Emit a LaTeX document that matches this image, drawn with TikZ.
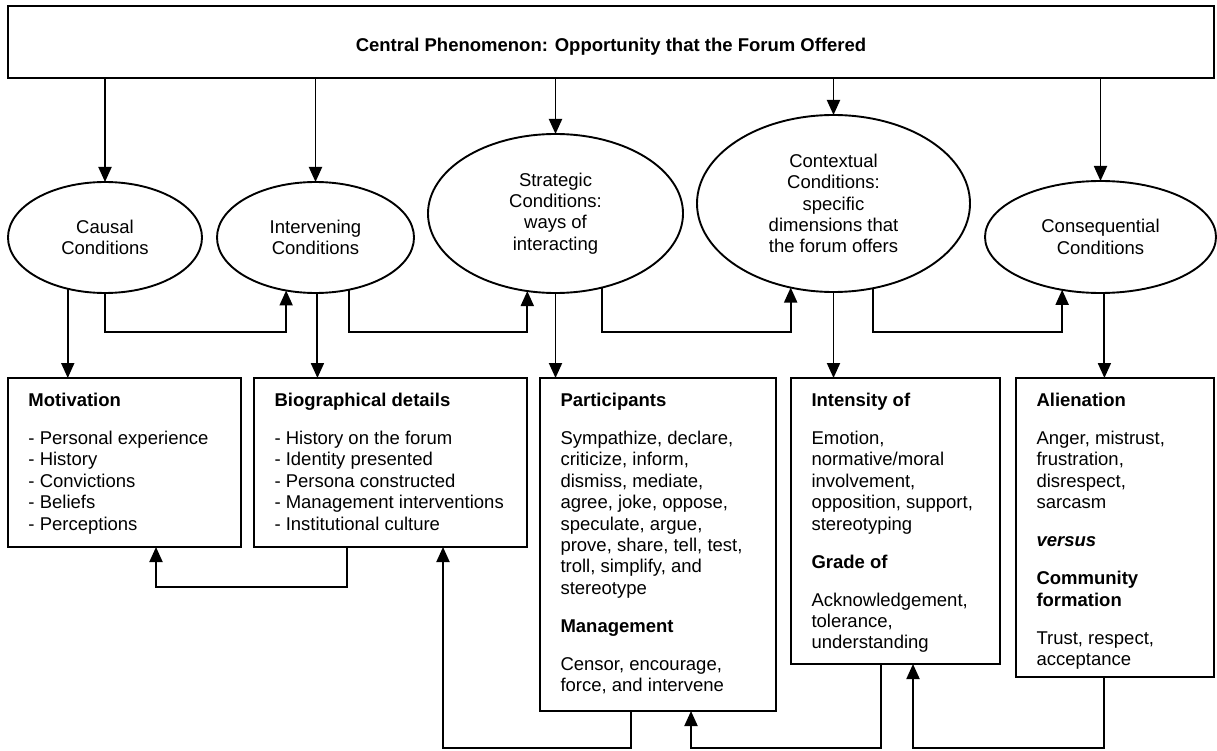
\documentclass[tikz,border=0pt]{standalone}
\usepackage{fontspec}
\setmainfont{Liberation Sans}
\usetikzlibrary{shapes.geometric,arrows.meta}
\newcommand\myfs{\fontsize{18.5pt}{21.4pt}\selectfont}
\newcommand\gap{\par\vspace{16.6pt}}
\newcommand\bxt[3]{\parbox[t][#2][t]{#1}{\myfs\raggedright\leftskip=20.5pt\relax\vspace*{13.5pt}\strut#3}}
\begin{document}
\begin{tikzpicture}[x=1pt,y=-1pt,
  ln/.style={line width=1.9pt},
  arr/.style={ln,-{Triangle[length=15pt,width=13pt]}},
  ell/.style={draw,ln,ellipse,inner sep=0pt,outer sep=0pt,align=center,font=\myfs,fill=white},
  bx/.style={draw,ln,rectangle,inner sep=0pt,outer sep=0pt,anchor=north west}]
\useasboundingbox (0,0) rectangle (1217,751);

% top box
\node[draw,ln,anchor=north west,minimum width=1206pt,minimum height=72pt,inner sep=0pt,outer sep=0pt,font=\myfs\bfseries] (top) at (8,6) {\rule{0pt}{22pt}Central Phenomenon: Opportunity that the Forum Offered};

% ellipses
\node[ell,minimum width=194pt,minimum height=111pt] (causal) at (105,237.5) {Causal\\Conditions};
\node[ell,minimum width=197pt,minimum height=111pt] (interv) at (315.5,237.5) {Intervening\\Conditions};
\node[ell,minimum width=255pt,minimum height=159pt] (strat) at (555.5,213.5) {Strategic\\Conditions:\\ways of\\interacting};
\node[ell,minimum width=273pt,minimum height=177pt] (ctx) at (833.5,203.5) {Contextual\\Conditions:\\specific\\dimensions that\\the forum offers};
\node[ell,minimum width=231pt,minimum height=112pt] (cons) at (1100.5,237) {Consequential\\Conditions};

% boxes
\node[bx] (mot) at (8,378) {\bxt{233pt}{169pt}{\textbf{Motivation}\gap
- Personal experience\\
- History\\
- Convictions\\
- Beliefs\\
- Perceptions}};
\node[bx] (bio) at (254,378) {\bxt{273pt}{169pt}{\textbf{Biographical details}\gap
- History on the forum\\
- Identity presented\\
- Persona constructed\\
- Management interventions\\
- Institutional culture}};
\node[bx] (part) at (540,378) {\bxt{236pt}{333pt}{\textbf{Participants}\gap
Sympathize, declare,\\
criticize, inform,\\
dismiss, mediate,\\
agree, joke, oppose,\\
speculate, argue,\\
prove, share, tell, test,\\
troll, simplify, and\\
stereotype\gap
\textbf{Management}\gap
Censor, encourage,\\
force, and intervene}};
\node[bx] (int) at (791,378) {\bxt{209pt}{286pt}{\textbf{Intensity of}\gap
Emotion,\\
normative/moral\\
involvement,\\
opposition, support,\\
stereotyping\gap
\textbf{Grade of}\gap
Acknowledgement,\\
tolerance,\\
understanding}};
\node[bx] (ali) at (1016,378) {\bxt{198pt}{299pt}{\textbf{Alienation}\gap
Anger, mistrust,\\
frustration,\\
disrespect,\\
sarcasm\gap
\textbf{\textit{versus}}\gap
\textbf{Community}\\
\textbf{formation}\gap
Trust, respect,\\
acceptance}};

% arrows from central phenomenon
\draw[arr] (top.south -| causal.north) -- (causal.north);
\draw[arr] (top.south -| interv.north) -- (interv.north);
\draw[arr] (top.south -| strat.north) -- (strat.north);
\draw[arr] (top.south -| ctx.north) -- (ctx.north);
\draw[arr] (top.south -| cons.north) -- (cons.north);

% lateral links between conditions
\draw[arr] (causal.south) -- (causal.south |- 0,332) -| (interv.241.8);
\draw[arr] (interv.303.6) -- (interv.303.6 |- 0,332) -| (strat.250.5);
\draw[arr] (strat.302.1) -- (strat.302.1 |- 0,332) -| (ctx.243.2);
\draw[arr] (ctx.295) -- (ctx.295 |- 0,332) -| (cons.234.7);

% conditions to boxes
\draw[arr] (causal.234.2) -- (causal.234.2 |- mot.north);
\draw[arr] (interv.272.6) -- (interv.272.6 |- bio.north);
\draw[arr] (strat.south) -- (strat.south |- part.north);
\draw[arr] (ctx.south) -- (ctx.south |- int.north);
\draw[arr] (cons.274.6) -- (cons.274.6 |- ali.north);

% feedback links between boxes
\draw[arr] (bio.south -| 347,0) -- (347,587) -| (mot.south -| 156,0);
\draw[arr] (part.south -| 631,0) -- (631,748) -| (bio.south -| 443,0);
\draw[arr] (int.south -| 881,0) -- (881,748) -| (part.south -| 691,0);
\draw[arr] (ali.south -| 1104,0) -- (1104,748) -| (int.south -| 913,0);
\end{tikzpicture}
\end{document}
